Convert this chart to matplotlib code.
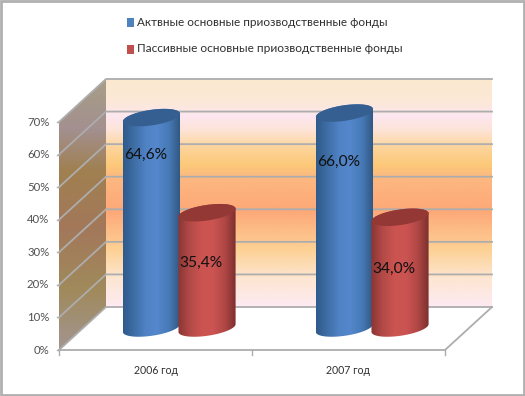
import numpy as np
import matplotlib
matplotlib.use("Agg")
import matplotlib.pyplot as plt
from matplotlib.colors import LinearSegmentedColormap
from matplotlib.patches import Polygon, Rectangle

categories = ["2006 год", "2007 год"]
series_names = ["Актвные основные приозводственные фонды", "Пассивные основные приозводственные фонды"]
active = [64.6, 66.0]
passive = [35.4, 34.0]
active_labels = ["64,6%", "66,0%"]
passive_labels = ["35,4%", "34,0%"]
y_ticks = [0, 10, 20, 30, 40, 50, 60, 70]

W, H = 525, 396
L, R, B, T = 59, 445, 350, 122
X_UNIT = (R - L) / 2
Y_UNIT = (B - T) / 70
DX = 47 / X_UNIT
DY = 43 / Y_UNIT
BASE = 6.75

plt.rcParams["font.family"] = ["Lato", "DejaVu Sans"]
fig = plt.figure(figsize=(W / 100, H / 100), dpi=100, facecolor="white")
ax = fig.add_axes([0, 0, 1, 1])
xlim = (-L / X_UNIT, (W - L) / X_UNIT)
ylim = ((B - H) / Y_UNIT, B / Y_UNIT)
ax.axis("off")

GREY = "#adadad"


def gradient(cmap_colors, extent, clip, horizontal=False, z=1):
    cmap = LinearSegmentedColormap.from_list("g", cmap_colors)
    if horizontal:
        arr = np.linspace(0, 1, 200).reshape(1, -1)
    else:
        arr = np.linspace(1, 0, 300).reshape(-1, 1)
    im = ax.imshow(arr, cmap=cmap, extent=extent, aspect="auto", origin="lower",
                   vmin=0, vmax=1, zorder=z, interpolation="bilinear")
    patch = Polygon(clip, closed=True, transform=ax.transData, fill=False, lw=0)
    im.set_clip_path(patch)
    return im


# back wall
gradient([(0, "#fbe9cf"), (0.1, "#fce8d8"), (0.16, "#fde7f0"), (0.22, "#fde4d8"), (0.3, "#fdd49a"),
          (0.38, "#fcc878"), (0.43, "#fdb880"), (0.58, "#fda878"), (0.75, "#fdd195"),
          (0.88, "#fde6d2"), (1, "#fdeaf2")],
         (DX, 2 + DX, DY, 70 + DY),
         [(DX, DY), (2 + DX, DY), (2 + DX, 70 + DY), (DX, 70 + DY)], z=1)
# side wall
gradient([(0, "#a89e86"), (0.18, "#a39090"), (0.34, "#a08050"), (0.55, "#a3785a"),
          (0.78, "#a08a5c"), (1, "#a39590")],
         (0, DX, 0, 70 + DY),
         [(0, 0), (DX, DY), (DX, 70 + DY), (0, 70)], z=1)

# gridlines
for v in y_ticks:
    ax.plot([0, DX, 2 + DX], [v, v + DY, v + DY], color=GREY, lw=1.3, zorder=2,
            solid_joinstyle="miter")
ax.plot([0, 2, 2 + DX], [0, 0, DY], color=GREY, lw=1.3, zorder=2)
for x in [0, 1, 2]:
    ax.plot([x, x], [0, -1.4], color=GREY, lw=1, zorder=2)
for v in y_ticks:
    ax.plot([-0.012, 0], [v, v], color=GREY, lw=1, zorder=2)
    ax.text(-0.05, v, f"{v}%", ha="right", va="center", fontsize=8.2, color="#505050")

for i, cat in enumerate(categories):
    ax.text(i + 0.5, -6.2, cat, ha="center", va="center", fontsize=7.6, color="#303030")


def cylinder(cx, value, label, side_colors, top_color, z, label_drop):
    half = 0.148
    t = np.linspace(0, 2 * np.pi, 100)
    ry = 2.4
    tilt = 1.2
    top = BASE + value
    lower = np.linspace(np.pi, 2 * np.pi, 50)
    body = list(zip(half * np.cos(lower) + cx, BASE + ry * np.sin(lower) + tilt * np.cos(lower)))
    upper = np.linspace(0, np.pi, 50)
    body += list(zip(half * np.cos(upper) + cx, top + ry * np.sin(upper) + tilt * np.cos(upper)))
    gradient(side_colors, (cx - half, cx + half, 0, 90), body, horizontal=True, z=z)
    ellipse = np.column_stack([cx + half * np.cos(t), top + ry * np.sin(t) + tilt * np.cos(t)])
    ax.add_patch(Polygon(ellipse, closed=True, fc=top_color, ec="none", zorder=z + 0.1))
    ax.text(cx - 0.03, value - label_drop, label, ha="center", va="center",
            fontsize=11.2, color="#111111", zorder=z + 0.2)


BLUE = ["#2f5a8c", "#3f6fa6", "#5083c6", "#5487cb", "#4679b5", "#2f5680"]
RED = ["#8b3533", "#b24a48", "#cb5350", "#cc5452", "#b24846", "#7c302e"]
active_drop = [4.7, 8.3]
passive_drop = [8.7, 9.1]
for i in range(len(categories)):
    cylinder(i + 0.479, active[i], active_labels[i], BLUE, "#355f91", 3, active_drop[i])
    cylinder(i + 0.767, passive[i], passive_labels[i], RED, "#933835", 4, passive_drop[i])

# legend, drawn by hand to keep the two stacked rows
renderer = fig.canvas.get_renderer()
for name, color, y, width in zip(series_names, ["#4f81bd", "#c0504d"], [22, 49], [251, 264]):
    fig.patches.append(Rectangle((127 / W, 1 - (y + 4.5) / H), 7 / W, 9 / H, transform=fig.transFigure,
                                 fc=color, ec="none"))
    txt = fig.text(137 / W, 1 - y / H, name, ha="left", va="center", fontsize=11, color="#303030")
    # squeeze to the width the row has in the picture
    txt.set_fontsize(11 * width / txt.get_window_extent(renderer).width)

# outer frame
fig.patches.append(Rectangle((0.0015, 0.002), 0.996, 0.995, transform=fig.transFigure,
                             fc="none", ec="#b0b0b0", lw=2))

ax.set_xlim(*xlim)
ax.set_ylim(*ylim)
fig.savefig("out.png", dpi=100)
